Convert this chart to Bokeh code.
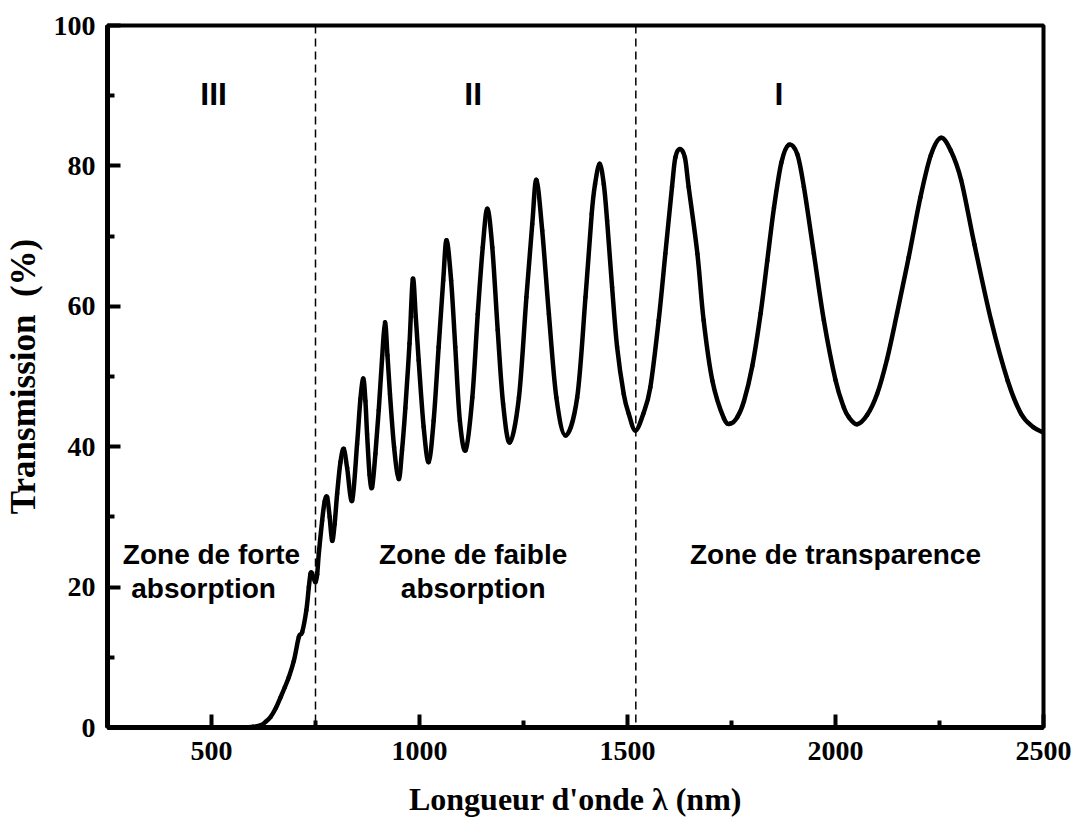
from bokeh.plotting import figure
from bokeh.models import FixedTicker, Range1d, Span, ColumnDataSource
from bokeh.embed import file_html
from bokeh.resources import INLINE
from bokeh.core.properties import value

# Transmission spectrum of the film: wavelength (nm) and transmission (%)
wavelength = [
    250, 400, 500, 580, 600, 618, 630, 642, 655, 666, 676, 686, 698, 710, 718,
    728, 734, 738, 741, 745, 750, 754, 758, 766, 772, 778, 784, 790, 796, 802,
    810, 818, 826, 838, 850, 858, 865, 870, 874, 880, 886, 894, 902, 910, 917,
    923, 929, 939, 950, 958, 966, 976, 984, 991, 998, 1010, 1022, 1034, 1046,
    1057, 1065, 1076, 1086, 1097, 1111, 1127, 1140, 1152, 1163, 1175, 1188,
    1201, 1217, 1239, 1257, 1271, 1281, 1295, 1311, 1329, 1351, 1379, 1399,
    1414, 1422, 1433, 1443, 1451, 1463, 1475, 1491, 1503, 1519, 1538, 1555,
    1575, 1591, 1607, 1615, 1626, 1638, 1647, 1668, 1683, 1704, 1732, 1748,
    1764, 1780, 1800, 1820, 1836, 1852, 1870, 1888, 1908, 1924, 1948, 1972,
    2000, 2020, 2032, 2052, 2076, 2100, 2124, 2148, 2176, 2204, 2229, 2253,
    2277, 2302, 2334, 2374, 2414, 2446, 2475, 2500,
]
transmission = [
    0.0, 0.0, 0.0, 0.0, 0.1, 0.3, 0.8, 1.5, 2.8, 4.3, 5.7, 7.2, 9.5, 12.9, 13.6,
    16.7, 20.0, 21.9, 22.0, 21.4, 20.7, 21.8, 24.8, 29.5, 32.2, 32.8, 30.0, 26.6, 29.0, 33.3,
    37.8, 39.7, 37.0, 32.3, 40.4, 46.8, 49.7, 46.5, 41.8, 36.0, 34.2, 39.0, 45.2, 52.5, 57.7,
    53.0, 47.5, 39.9, 35.4, 39.5, 45.5, 54.7, 63.9, 58.5, 52.3, 42.8, 37.8, 43.7, 54.2,
    63.7, 69.4, 63.7, 54.2, 43.7, 39.5, 47.0, 58.9, 68.4, 73.9, 68.4, 56.6,
    46.1, 40.6, 47.0, 61.3, 71.7, 78.0, 70.8, 58.9, 47.0, 41.6, 47.0, 61.3,
    73.2, 77.4, 80.3, 77.4, 72.2, 62.7, 54.2, 47.5, 44.7, 42.3, 44.7, 48.5,
    58.0, 67.5, 77.0, 81.2, 82.4, 81.2, 77.0, 67.5, 58.0, 49.4, 44.0, 43.3,
    44.2, 46.5, 51.5, 59.0, 66.5, 74.0, 80.5, 83.0, 81.7, 77.0, 67.5, 58.0,
    49.5, 45.6, 44.2, 43.2, 44.5, 47.5, 52.5, 59.0, 67.0, 75.5, 81.5, 84.0,
    82.2, 78.0, 68.8, 58.0, 49.4, 44.7, 42.8, 42.0,
]

# Zone boundaries (nm)
zone_bounds = [750, 1520]

# Zone numerals and descriptions
numeral_x = [505, 1129, 1864]
numeral_text = ["III", "II", "I"]
zone_x = [500, 481, 1129, 1129, 2000]
zone_y = [24.6, 19.8, 24.6, 19.8, 24.6]
zone_text = ["Zone de forte", "absorption", "Zone de faible", "absorption",
             "Zone de transparence"]

x_ticks = [500, 1000, 1500, 2000, 2500]
x_minor = [750, 1250, 1750, 2250]
y_ticks = [0, 20, 40, 60, 80, 100]
y_minor = [10, 30, 50, 70, 90]


def smooth_segments(xs, ys):
    """Cubic Bezier pieces (Catmull-Rom tangents) running through every point."""
    n = len(xs)
    seg = dict(x0=[], y0=[], x1=[], y1=[], cx0=[], cy0=[], cx1=[], cy1=[])
    for i in range(n - 1):
        a = max(i - 1, 0)
        b = min(i + 2, n - 1)
        seg["x0"].append(xs[i]); seg["y0"].append(ys[i])
        seg["x1"].append(xs[i + 1]); seg["y1"].append(ys[i + 1])
        seg["cx0"].append(xs[i] + (xs[i + 1] - xs[a]) / 6)
        seg["cy0"].append(ys[i] + (ys[i + 1] - ys[a]) / 6)
        seg["cx1"].append(xs[i + 1] - (xs[b] - xs[i]) / 6)
        seg["cy1"].append(ys[i + 1] - (ys[b] - ys[i]) / 6)
    return seg


p = figure(
    width=1077, height=819,
    x_range=Range1d(250, 2500), y_range=Range1d(0, 100),
    output_backend="svg", toolbar_location=None,
    min_border_left=107, min_border_right=34,
    min_border_top=25, min_border_bottom=92,
)
p.xgrid.visible = False
p.ygrid.visible = False
p.outline_line_color = "black"
p.outline_line_width = 4
p.background_fill_color = "white"
p.border_fill_color = "white"

for ax in (p.xaxis[0], p.yaxis[0]):
    ax.axis_line_width = 5
    ax.axis_line_color = "black"
    ax.major_tick_in = 13
    ax.major_tick_out = 0
    ax.minor_tick_in = 7
    ax.minor_tick_out = 0
    ax.major_tick_line_width = 4
    ax.minor_tick_line_width = 4
    ax.major_label_text_font = "Liberation Serif"
    ax.major_label_text_font_style = "bold"
    ax.major_label_text_font_size = "28px"
    ax.major_label_text_color = "black"
    ax.axis_label_text_font = "Liberation Serif"
    ax.axis_label_text_font_style = "bold"
    ax.axis_label_text_color = "black"

p.xaxis.axis_label_text_font_size = "32px"
p.yaxis.axis_label_text_font_size = "35px"
p.xaxis.ticker = FixedTicker(ticks=x_ticks, minor_ticks=x_minor)
p.yaxis.ticker = FixedTicker(ticks=y_ticks, minor_ticks=y_minor)
p.xaxis.major_label_standoff = 14
p.yaxis.major_label_standoff = 12
p.xaxis.axis_label = "Longueur d'onde \u03bb (nm)"
p.yaxis.axis_label = "Transmission\u00a0\u00a0(%)"
p.xaxis.axis_label_standoff = 18
p.yaxis.axis_label_standoff = 8

for b in zone_bounds:
    p.add_layout(Span(location=b, dimension="height", line_color="black",
                      line_width=1.5, line_dash="8 5"))

curve = ColumnDataSource(smooth_segments(wavelength, transmission))
p.bezier(x0="x0", y0="y0", x1="x1", y1="y1", cx0="cx0", cy0="cy0",
         cx1="cx1", cy1="cy1", source=curve, line_color="black",
         line_width=4.5, line_cap="round")

num_src = ColumnDataSource(dict(x=numeral_x, y=[90.2] * len(numeral_x),
                                text=numeral_text))
p.text(x="x", y="y", text="text", source=num_src,
       text_font=value("Liberation Sans"), text_font_style="bold",
       text_font_size="32px", text_align="center", text_baseline="alphabetic",
       text_color="black")

zone_src = ColumnDataSource(dict(x=zone_x, y=zone_y, text=zone_text))
p.text(x="x", y="y", text="text", source=zone_src,
       text_font=value("Liberation Sans"), text_font_style="bold",
       text_font_size="28px", text_align="center", text_baseline="alphabetic",
       text_color="black")

open("out.html", "w").write(file_html(p, INLINE))
